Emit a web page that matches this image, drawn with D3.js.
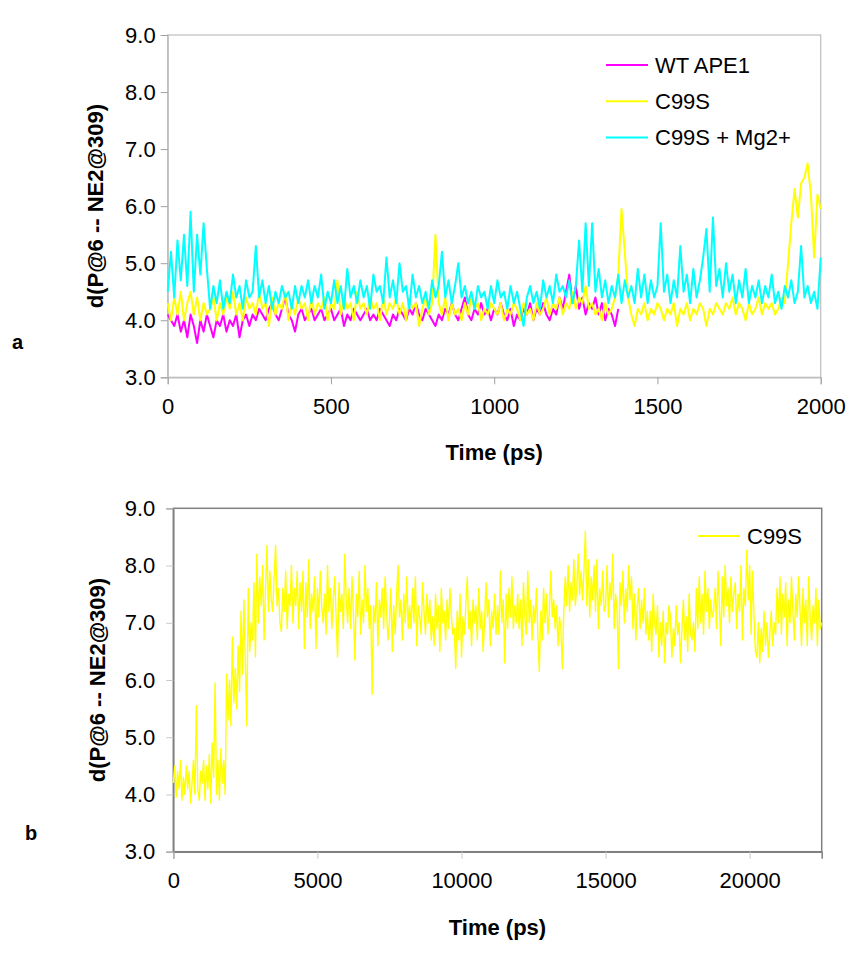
<!DOCTYPE html>
<html><head><meta charset="utf-8">
<script src="https://cdn.jsdelivr.net/npm/d3@7"></script>
<style>body{margin:0;background:#fff}svg{display:block;font-family:"Liberation Sans",Arial,sans-serif}</style>
</head><body><svg id="c" width="868" height="959"></svg>
<script>
// ---------- data ----------
const seriesNamesA = ["WT APE1", "C99S", "C99S + Mg2+"];
const seriesColorsA = ["#FF00FF", "#FFFF00", "#00FFFF"];
const stepA = 10; // ps between samples, panel a
const wtApe1 = [
4.1,4.0,3.9,4.1,3.8,4.0,3.7,4.1,3.9,3.6,4.0,3.8,4.1,3.9,3.7,4.0,3.9,4.1,3.8,4.0,
3.9,4.1,3.7,4.0,4.1,3.9,4.1,4.0,4.2,4.1,4.0,4.2,4.3,4.1,4.0,4.2,4.4,4.1,4.0,3.8,
4.1,4.2,4.0,4.1,4.2,4.0,4.1,4.2,4.0,4.1,4.2,4.0,4.1,4.2,3.9,4.1,4.0,4.2,4.1,4.0,
4.1,4.2,4.0,4.1,4.0,4.2,4.1,4.0,3.9,4.1,4.0,4.2,4.1,4.0,4.2,4.1,4.3,4.1,4.0,4.2,
4.1,4.0,3.9,4.1,4.0,4.2,4.1,4.3,4.1,4.0,4.2,4.4,4.1,4.0,4.2,4.1,4.3,4.1,4.2,4.0,
4.2,4.1,4.3,4.1,4.0,4.2,3.9,4.1,4.0,4.2,4.1,4.3,4.0,4.2,4.1,4.3,4.1,4.0,4.2,4.1,
4.4,4.2,4.5,4.8,4.3,4.6,4.2,4.4,4.1,4.3,4.2,4.4,4.1,4.3,4.0,4.2,4.1,3.9,4.2
];
const c99s = [
4.3,4.0,4.4,4.1,4.5,4.0,4.3,4.5,4.1,4.4,4.0,4.3,4.1,4.2,4.4,4.0,4.3,4.1,4.4,4.2,
4.5,4.1,4.3,4.0,4.4,4.2,4.3,4.1,4.5,4.2,4.3,3.9,4.4,4.1,4.3,4.2,4.5,4.0,4.3,4.1,
4.4,4.2,4.3,4.0,4.4,4.1,4.3,4.2,4.4,4.0,4.3,4.2,4.7,4.1,4.4,4.2,4.3,4.0,4.5,4.2,
4.3,4.1,4.4,4.2,4.3,4.0,4.4,4.1,4.3,4.2,4.4,4.1,4.3,4.0,4.4,4.2,4.3,3.9,4.2,4.4,
4.1,4.3,5.5,4.3,4.1,4.4,4.0,4.3,4.1,4.2,4.0,4.3,4.1,4.4,4.2,4.3,4.0,4.2,4.1,4.3,
4.2,4.1,4.3,4.0,4.2,4.1,4.3,4.2,4.0,4.3,4.1,4.2,4.0,4.3,4.1,4.2,4.4,4.1,4.3,4.2,
4.4,4.1,4.3,4.2,4.5,4.2,4.4,4.3,4.6,4.2,4.3,4.1,4.2,4.0,4.3,4.1,4.2,4.4,4.8,5.95,
5.2,4.4,4.1,3.9,4.2,4.1,4.3,4.0,4.2,4.1,4.3,4.2,4.0,4.2,4.1,4.3,3.9,4.2,4.1,4.3,
4.0,4.2,4.1,4.3,4.2,3.9,4.2,4.1,4.3,4.2,4.1,4.3,4.2,4.4,4.1,4.3,4.2,4.0,4.3,4.1,
4.2,4.4,4.1,4.3,4.2,4.3,4.1,4.2,4.4,4.3,5.0,5.7,6.3,5.8,6.4,6.5,6.75,6.2,5.1,6.2,
5.95
];
const c99sMg = [
4.5,5.2,4.4,5.4,4.7,5.5,4.6,5.9,4.5,5.5,4.8,5.7,4.9,4.2,4.6,4.3,4.7,4.2,4.5,4.3,
4.8,4.4,4.6,4.2,4.7,4.4,4.5,5.3,4.4,4.7,4.3,4.6,4.2,4.5,4.3,4.6,4.4,4.5,4.2,4.6,
4.3,4.6,4.4,4.7,4.3,4.6,4.4,4.8,4.2,4.5,4.3,4.7,4.3,4.6,4.2,4.9,4.4,4.6,4.3,4.7,
4.4,4.6,4.2,4.8,4.5,4.6,4.3,5.1,4.4,4.7,4.3,5.0,4.5,4.6,4.2,4.8,4.4,4.6,4.3,4.5,
4.2,4.7,4.4,4.6,5.2,4.4,4.7,4.3,4.6,5.0,4.4,4.6,4.3,4.5,4.2,4.6,4.4,4.5,4.2,4.6,
4.3,4.7,4.4,4.5,4.2,4.6,4.3,4.5,4.2,3.9,4.4,4.6,4.3,4.5,4.2,4.7,4.4,4.6,4.3,4.8,
4.5,4.6,4.4,4.7,4.3,4.6,5.4,4.5,5.7,4.6,5.7,4.5,4.9,4.4,4.7,4.3,4.6,4.4,4.8,4.3,
4.7,4.4,4.6,4.3,4.9,4.4,4.8,4.3,4.7,4.4,4.6,5.7,4.5,4.8,4.3,4.7,4.4,5.3,4.5,4.8,
4.3,4.9,4.4,4.7,5.1,5.6,4.5,5.8,4.6,4.9,4.4,5.0,4.5,4.8,4.3,4.7,4.4,4.9,4.3,4.6,
4.4,4.7,4.3,4.6,4.4,4.8,4.3,4.5,4.2,4.6,4.4,4.7,4.3,4.5,5.3,4.4,4.6,4.3,4.5,4.2,
5.1
];
const stepB = 50; // ps between samples, panel b
const c99sLong = [
4.2,4.5,3.95,4.4,4.1,4.6,3.9,4.3,4.0,4.5,4.1,4.4,3.85,4.2,4.6,
4.0,5.55,4.1,3.9,4.4,4.2,4.6,3.9,4.5,4.1,4.7,3.85,4.9,4.3,5.95,
4.0,4.6,3.9,4.8,4.2,4.6,4.0,6.1,5.3,6.0,5.2,6.75,5.6,6.2,5.5,
6.6,5.8,7.2,6.1,7.4,6.3,5.2,7.6,6.5,7.0,6.7,7.7,6.4,8.2,7.0,
7.8,7.3,8.0,6.7,7.6,8.35,7.2,7.9,7.4,7.2,7.8,8.35,7.3,7.6,7.0,
6.85,7.6,7.2,7.9,6.9,7.5,7.3,8.0,7.0,7.6,7.3,7.9,6.9,7.7,7.2,
7.9,6.55,7.7,7.1,8.1,6.9,7.5,7.2,7.8,6.55,7.6,7.1,7.9,7.3,7.0,
7.5,6.8,8.0,7.2,7.6,6.9,7.4,7.8,7.1,6.4,7.7,7.2,7.5,6.9,8.2,
7.4,7.0,7.6,6.9,7.8,7.2,6.35,7.5,7.1,7.9,6.8,7.4,7.0,8.0,7.2,
7.6,6.9,7.3,5.75,7.3,7.0,7.7,6.6,7.4,7.1,7.6,6.9,7.8,7.2,6.7,
7.0,7.6,6.5,7.3,6.8,7.5,8.0,7.1,7.4,6.7,7.5,7.0,7.8,6.9,7.3,
6.9,7.6,7.0,7.8,6.6,7.3,7.1,6.8,7.7,7.2,6.8,7.5,7.0,7.4,6.7,
7.1,6.6,7.5,6.9,7.3,6.5,7.6,7.0,7.2,6.7,7.4,6.9,7.6,7.1,6.8,
6.9,6.2,7.2,6.7,7.5,6.4,7.1,6.8,7.3,7.8,6.9,7.2,6.6,7.4,7.0,
7.3,6.7,7.6,6.9,7.2,6.5,7.0,7.7,7.1,7.4,6.6,7.2,6.9,7.5,6.8,
7.3,6.8,7.9,7.0,7.4,6.3,7.5,6.9,7.6,7.1,7.8,6.9,7.3,7.0,7.5,
6.9,7.4,6.6,7.7,7.1,6.8,7.9,7.0,7.4,6.7,7.3,7.0,7.6,6.8,6.15,
7.2,6.7,7.6,7.0,7.5,6.8,7.2,7.9,7.1,7.4,6.9,7.3,6.6,7.1,6.9,
6.2,7.2,7.8,7.3,8.0,7.2,7.7,7.4,8.1,7.3,7.6,8.2,7.5,7.9,7.4,
7.9,8.6,7.3,8.1,7.1,7.8,7.4,8.0,7.2,8.1,6.9,7.6,7.3,7.9,7.2,
7.3,8.0,7.1,7.7,7.4,8.2,6.9,7.5,7.2,6.2,7.7,7.3,7.9,7.0,7.6,
7.2,8.0,7.4,7.8,6.9,7.5,6.7,7.3,7.6,6.9,7.4,7.0,7.6,6.8,7.2,
6.7,7.2,6.5,7.5,7.0,6.8,7.3,6.4,7.0,6.6,7.2,6.3,7.0,6.8,7.3,
7.1,6.4,6.9,6.6,7.3,6.8,7.0,6.3,6.9,7.4,6.7,7.1,6.5,7.5,6.8,
6.7,7.0,6.5,7.6,6.9,7.8,7.0,7.5,6.8,7.9,7.2,7.6,6.9,7.4,7.1,
7.2,7.6,6.9,7.9,7.3,6.6,7.8,7.1,8.0,7.3,7.6,7.0,7.8,7.2,7.5,
7.7,6.9,7.5,7.2,8.0,6.7,7.6,7.3,8.27,7.4,8.0,6.8,7.9,7.1,6.5,
6.4,7.0,6.3,6.9,6.5,7.2,6.6,7.0,6.4,6.8,7.2,6.6,7.0,6.8,7.6,
7.0,7.8,6.8,7.5,7.1,7.7,6.6,7.4,7.0,7.8,7.2,6.7,7.5,7.1,7.8,
7.2,6.6,7.6,7.0,7.4,6.6,7.8,7.1,6.7,7.3,7.0,7.6,6.6,7.4,6.9,
7.0
];
const yTickValues = [3, 4, 5, 6, 7, 8, 9];
const xTickValuesA = [0, 500, 1000, 1500, 2000];
const xTickValuesB = [0, 5000, 10000, 15000, 20000];
const yTitle = "d(P@6 -- NE2@309)";
const xTitle = "Time (ps)";

// ---------- drawing ----------
const svg = d3.select("#c");
svg.append("rect").attr("width", 868).attr("height", 959).attr("fill", "#fff");

function panel(opt) {
  const g = svg.append("g");
  const x = d3.scaleLinear().domain(opt.xDomain).range([opt.left, opt.right]);
  const y = d3.scaleLinear().domain([3, 9]).range([opt.bottom, opt.top]);

  g.append("rect").attr("x", opt.left).attr("y", opt.top)
    .attr("width", opt.right - opt.left).attr("height", opt.bottom - opt.top)
    .attr("fill", "none").attr("stroke", opt.frame).attr("stroke-width", opt.frameW);

  const ya = g.append("g").attr("transform", `translate(${opt.left},0)`)
    .call(d3.axisLeft(y).tickValues(yTickValues).tickFormat(d3.format(".1f")).tickSize(7).tickPadding(opt.yPad));
  const xa = g.append("g").attr("transform", `translate(0,${opt.bottom})`)
    .call(d3.axisBottom(x).tickValues(opt.xTicks).tickFormat(d3.format("d")).tickSize(7).tickPadding(opt.xPad));
  [ya, xa].forEach(a => {
    a.select(".domain").attr("stroke", opt.frame).attr("stroke-width", opt.frameW);
    a.selectAll(".tick line").attr("stroke", opt.tickColor);
    a.selectAll(".tick text").attr("fill", "#000").style("font-size", "22px")
      .style("font-family", '"Liberation Sans",Arial,sans-serif');
  });

  const line = d3.line().x(d => x(d.t)).y(d => y(d.v));
  opt.series.forEach(s => {
    const pts = s.values.map((v, i) => ({ t: i * s.step, v }));
    g.append("path").datum(pts).attr("d", line).attr("fill", "none")
      .attr("stroke", s.color).attr("stroke-width", opt.lineW).attr("stroke-linejoin", "round");
  });

  opt.legend.forEach((s, i) => {
    const ly = opt.legY + i * opt.legGap;
    g.append("line").attr("x1", opt.legX).attr("x2", opt.legX + 42).attr("y1", ly).attr("y2", ly)
      .attr("stroke", s.color).attr("stroke-width", 2);
    g.append("text").attr("x", opt.legX + 49).attr("y", ly).attr("dy", "0.36em")
      .style("font-size", "22px").text(s.name);
  });

  g.append("text").attr("x", (opt.left + opt.right) / 2).attr("y", opt.xTitleY)
    .attr("text-anchor", "middle").style("font-size", "22px").style("font-weight", "bold").text(xTitle);
  const cy = (opt.top + opt.bottom) / 2;
  g.append("text").attr("transform", `translate(${opt.yTitleX},${cy}) rotate(-90)`)
    .attr("text-anchor", "middle").attr("dy", "0.36em")
    .style("font-size", "22px").style("font-weight", "bold").text(yTitle);
  g.append("text").attr("x", opt.tagX).attr("y", opt.tagY).attr("dy", "0.36em")
    .style("font-size", "20px").style("font-weight", "bold").text(opt.tag);
}

const seriesA = [
  { name: seriesNamesA[0], color: seriesColorsA[0], values: wtApe1, step: stepA },
  { name: seriesNamesA[1], color: seriesColorsA[1], values: c99s, step: stepA },
  { name: seriesNamesA[2], color: seriesColorsA[2], values: c99sMg, step: stepA }
];

panel({
  left: 167.7, right: 820.7, top: 35, bottom: 377.3,
  xDomain: [0, 2000], xTicks: xTickValuesA,
  frame: "#bdbdbd", frameW: 1.2, tickColor: "#a0a0a0", lineW: 2,
  yPad: 5, xPad: 14,
  series: seriesA, legend: seriesA, legX: 606, legY: 65, legGap: 36.2,
  xTitleY: 460, yTitleX: 95, tag: "a", tagX: 12, tagY: 342
});

panel({
  left: 173.3, right: 821.7, top: 508.3, bottom: 851.7,
  xDomain: [0, 22500], xTicks: xTickValuesB,
  frame: "#808080", frameW: 1.5, tickColor: "#c8c8c8", lineW: 1.4,
  yPad: 11, xPad: 14,
  series: [{ name: "C99S", color: "#FFFF00", values: c99sLong, step: stepB }],
  legend: [{ name: "C99S", color: "#FFFF00" }], legX: 698, legY: 536, legGap: 0,
  xTitleY: 935, yTitleX: 97, tag: "b", tagX: 25, tagY: 833
});
</script></body></html>
